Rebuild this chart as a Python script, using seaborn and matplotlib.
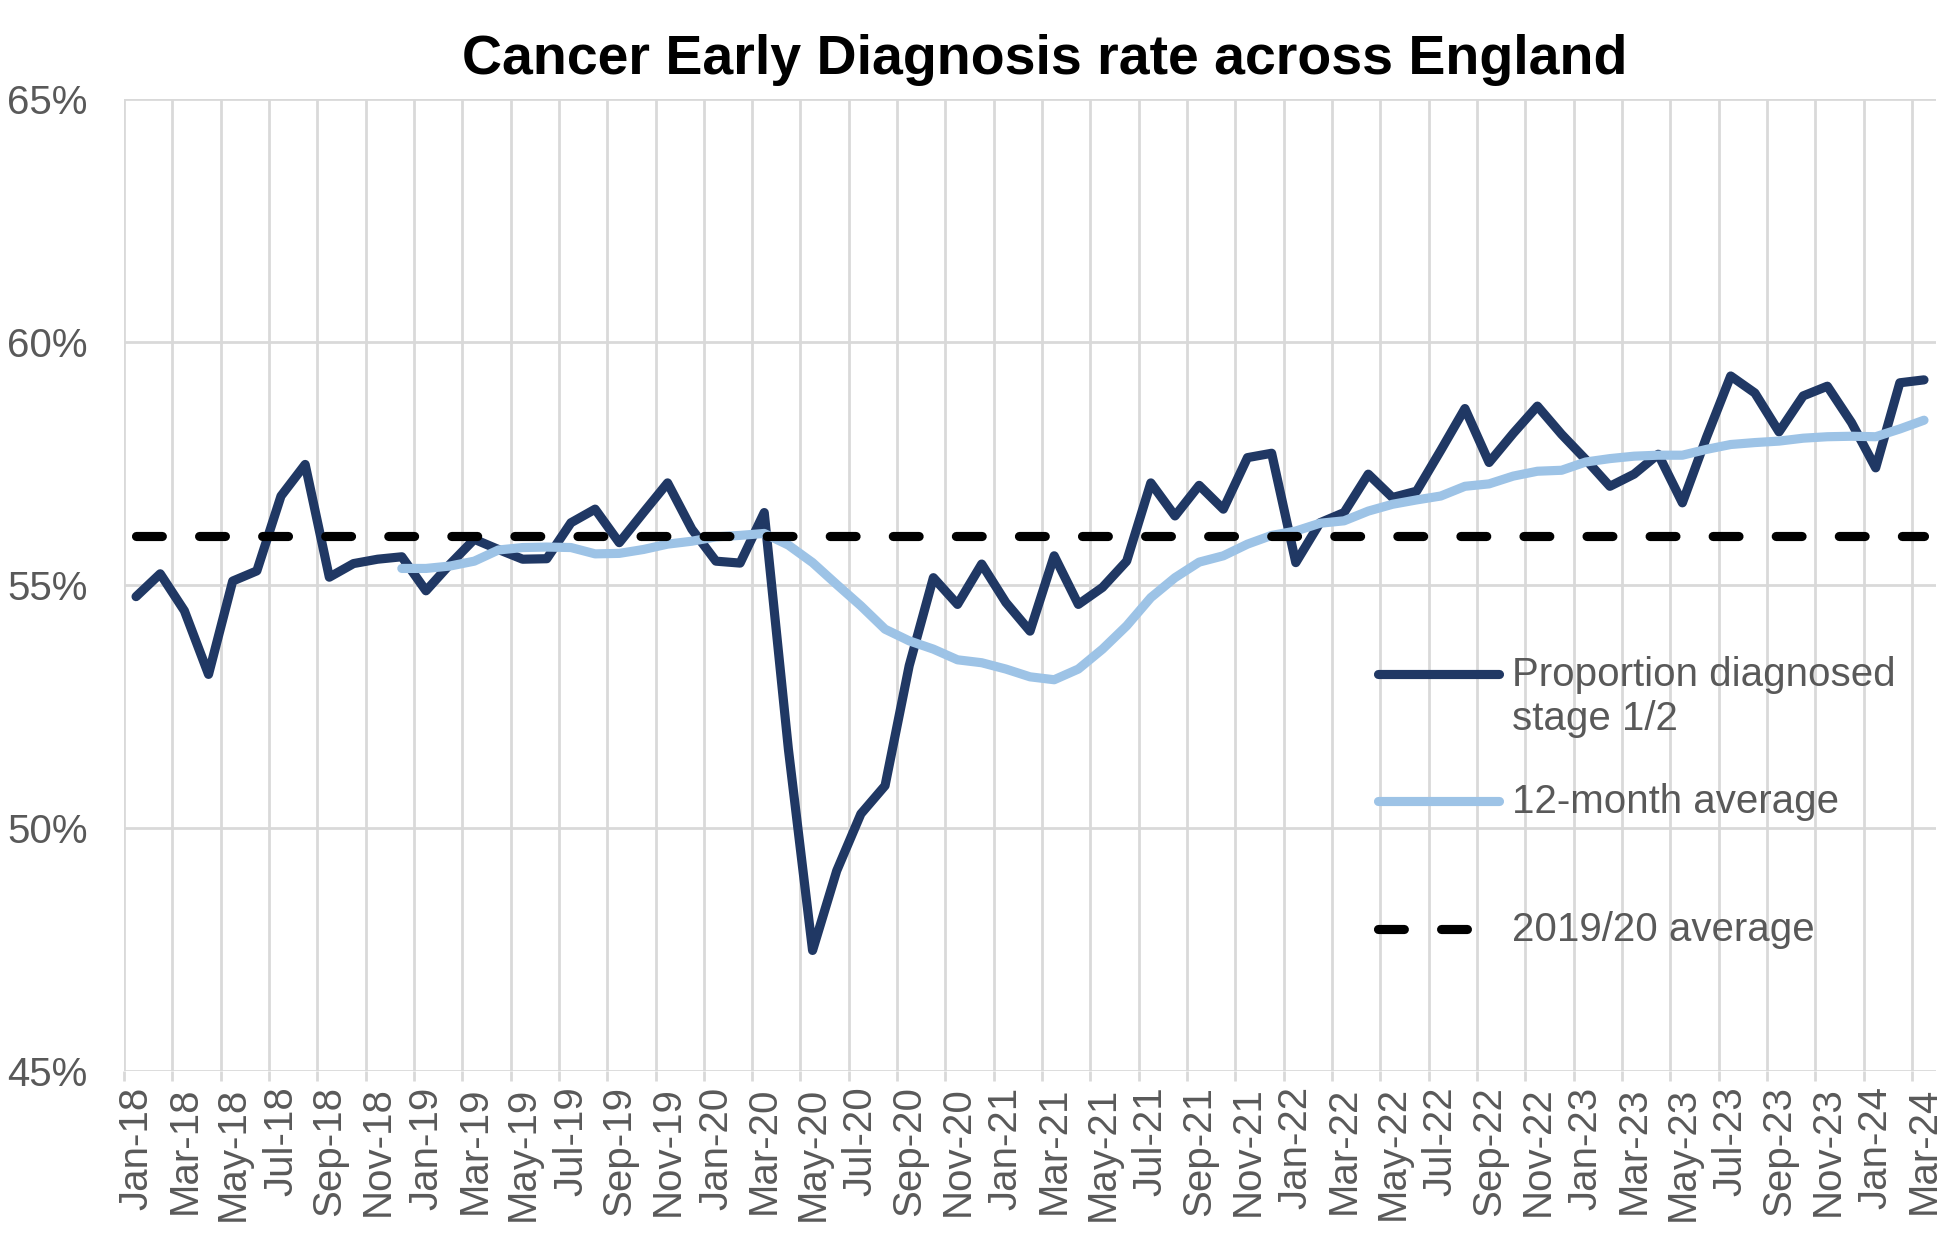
import numpy as np
import pandas as pd
import seaborn as sns
import matplotlib.pyplot as plt
from matplotlib.ticker import FixedLocator, FuncFormatter
from matplotlib.transforms import ScaledTranslation

# Monthly categories Jan-18 .. Mar-24
months = pd.date_range("2018-01-01", "2024-03-01", freq="MS")
month_labels = [d.strftime("%b-%y") for d in months]

# Proportion diagnosed at stage 1/2 (%)
stage12 = [
    54.76, 55.23, 54.47, 53.16, 55.08, 55.29, 56.83, 57.48, 55.16, 55.44, 55.53, 55.58,  # 2018
    54.88, 55.43, 55.94, 55.73, 55.53, 55.54, 56.28, 56.56, 55.87, 56.49, 57.10, 56.15,  # 2019
    55.49, 55.45, 56.49, 51.62, 47.48, 49.12, 50.29, 50.87, 53.34, 55.15, 54.60, 55.43,  # 2020
    54.64, 54.05, 55.60, 54.60, 54.95, 55.49, 57.10, 56.42, 57.05, 56.56, 57.62, 57.71,  # 2021
    55.46, 56.28, 56.49, 57.28, 56.80, 56.93, 57.77, 58.63, 57.52, 58.12, 58.68, 58.10,  # 2022
    57.58, 57.03, 57.28, 57.69, 56.69, 58.04, 59.30, 58.95, 58.15, 58.89, 59.09, 58.34,  # 2023
    57.41, 59.16, 59.22,                                                                 # 2024
]

# 12-month rolling average (%), starts Dec-18
avg12 = [np.nan] * 11 + [
    55.34,
    55.34, 55.39, 55.49, 55.72, 55.77, 55.78, 55.77, 55.64, 55.65, 55.73, 55.84, 55.90,
    55.99, 56.02, 56.06, 55.82, 55.46, 55.01, 54.57, 54.09, 53.85, 53.68, 53.46, 53.40,
    53.27, 53.11, 53.05, 53.27, 53.68, 54.16, 54.74, 55.15, 55.47, 55.60, 55.84, 56.02,
    56.11, 56.27, 56.32, 56.52, 56.66, 56.75, 56.83, 57.03, 57.08, 57.24, 57.34, 57.36,
    57.53, 57.60, 57.65, 57.67, 57.67, 57.79, 57.89, 57.93, 57.96, 58.02, 58.05, 58.06,
    58.05, 58.21, 58.39,
]

# 2019/20 average (%)
baseline = [56.0] * len(months)

labels = ["Proportion diagnosed\nstage 1/2", "12-month average\n", "2019/20 average\n"]

df = pd.DataFrame({"pos": np.arange(len(months)) + 0.5,
                   "stage12": stage12, "avg12": avg12, "baseline": baseline})

sns.set_theme(style="white")
plt.rcParams["font.family"] = ["Liberation Sans", "DejaVu Sans"]

grey_txt = "#595959"
grid_col = "#D9D9D9"
lw = 6.6

fig = plt.figure(figsize=(19.46, 12.51), dpi=100)
ax = fig.add_axes([0.0637, 0.1439, 0.9312, 0.777])

sns.lineplot(data=df, x="pos", y="stage12", ax=ax, color="#203864", linewidth=lw,
             solid_capstyle="round", label=labels[0])
sns.lineplot(data=df.dropna(), x="pos", y="avg12", ax=ax, color="#9DC3E6", linewidth=lw,
             solid_capstyle="round", label=labels[1])
sns.lineplot(data=df, x="pos", y="baseline", ax=ax, color="black", linewidth=lw,
             dashes=(2.82, 4.06), label=labels[2])
for ln in ax.get_lines()[2:]:
    ln.set_dash_capstyle("round")

ax.set_xlim(0, len(months))
ax.set_ylim(45, 65)
ax.set_yticks([45, 50, 55, 60, 65])
ax.yaxis.set_major_formatter(FuncFormatter(lambda v, p: f"{v:.0f}%"))

# labels on every second month, gridlines on category boundaries
ax.xaxis.set_major_locator(FixedLocator(np.arange(0, len(months), 2) + 0.5))
ax.set_xticklabels(month_labels[::2], rotation=90)
ax.xaxis.set_minor_locator(FixedLocator(np.arange(0, len(months), 2)))

ax.tick_params(axis="x", which="major", length=0, pad=11, labelsize=29, labelcolor=grey_txt)
ax.tick_params(axis="x", which="minor", length=7, width=2.0, color=grid_col, bottom=True)
ax.tick_params(axis="y", which="major", length=0, pad=26, labelsize=29, labelcolor=grey_txt)

ax.grid(False)
ax.grid(which="minor", axis="x", color=grid_col, linewidth=2.0)
ax.grid(which="major", axis="y", color=grid_col, linewidth=2.0)
ax.set_axisbelow(True)
for s in ax.spines.values():
    s.set_visible(False)
ax.set_xlabel("")
ax.set_ylabel("")

ax.set_title("Cancer Early Diagnosis rate across England", fontsize=40,
             fontweight="bold", color="black", pad=18, x=0.508)

leg = ax.legend(loc="upper left", bbox_to_anchor=(0.692, 0.427), frameon=False,
                fontsize=29, handlelength=3.0, handletextpad=0.33, labelspacing=1.13,
                borderpad=0, borderaxespad=0, labelcolor=grey_txt)
shift = ScaledTranslation(0, 0.24, fig.dpi_scale_trans)
for hl in leg.get_lines():
    hl.set_transform(hl.get_transform() + shift)

fig.savefig("out.png", dpi=100)
